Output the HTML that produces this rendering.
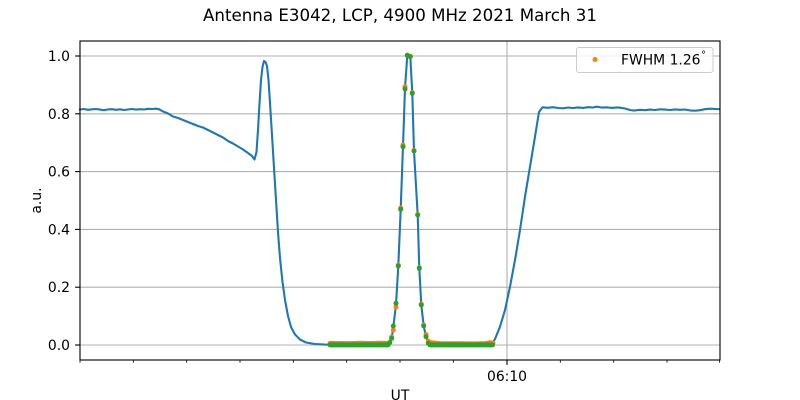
<!DOCTYPE html>
<html>
<head>
<meta charset="utf-8">
<style>
html,body{margin:0;padding:0;background:#fff;}
svg{display:block;}
text{font-family:"DejaVu Sans","Liberation Sans",sans-serif;fill:#000;}
</style>
</head>
<body>
<svg width="800" height="400" viewBox="0 0 800 400" xmlns="http://www.w3.org/2000/svg">
<rect width="800" height="400" fill="#fff"/>
<text x="400" y="21" font-size="16.67" text-anchor="middle">Antenna E3042, LCP, 4900 MHz 2021 March 31</text>

<!-- grid -->
<g stroke="#b0b0b0" stroke-width="1.1" fill="none">
<line x1="80" y1="345" x2="720" y2="345"/>
<line x1="80" y1="287.2" x2="720" y2="287.2"/>
<line x1="80" y1="229.4" x2="720" y2="229.4"/>
<line x1="80" y1="171.6" x2="720" y2="171.6"/>
<line x1="80" y1="113.8" x2="720" y2="113.8"/>
<line x1="80" y1="56" x2="720" y2="56"/>
<line x1="507" y1="41" x2="507" y2="360"/>
</g>

<!-- blue data line -->
<path fill="none" stroke="#1f77b4" stroke-width="2.1" stroke-linejoin="round" stroke-linecap="square" d="M80,109.5 L84,109 L88,109.8 L92,109.3 L96,109 L100,109.6 L104,110.2 L108,109.4 L112,109.2 L116,109.8 L120,109.3 L124,110 L128,109.5 L132,109 L136,109.6 L140,109.2 L144,109.5 L148,108.8 L152,109 L156,108.7 L159,109.2 L163,111.5 L168,113.5 L173,116.5 L178,118 L183,120 L188,122 L193,124 L198,126 L203,127.5 L208,130 L213,132.5 L218,135 L223,137.5 L228,141 L233,143.5 L238,146.5 L243,149.5 L248,153 L252,156 L254.5,159.5 L256.5,152 L258,130 L259.3,106.7 L261,80 L262.5,67 L264,61 L265.5,62 L267,66 L268.5,80 L270,103 L272,135 L274,168 L276,200 L278,232 L280,258 L282.5,282 L285,300 L288,316 L291,327 L295,334.5 L300,339.5 L306,342.5 L315,344 L325,344.6 L340,344.8 L385,344.5 L388,343 L391.7,338.3 L393.3,327 L396,304.5 L398.3,266 L400.7,209 L403,146 L405,88 L407.3,55.5 L410.3,56.5 L412.3,93.3 L414,151 L417.7,215 L419.3,268.3 L421.3,305 L423.7,326 L426,336.5 L428.3,342.5 L432,344.3 L440,344.8 L490,344.6 L492,344 L495,339 L500,326.7 L505,310 L510,286.7 L515,260 L520,230 L525,196.7 L530,166.7 L535,136.7 L539,112 L542.5,107.3 L548,107.8 L553,107.2 L558,108 L563,108.3 L568,107.5 L573,108 L578,107.4 L583,107.9 L588,107.2 L593,107.5 L597,106.7 L602,107.6 L607,107.3 L612,107.9 L617,107.4 L620,107.7 L625,108.5 L630,110 L634,110.6 L640,109.8 L645,110.2 L650,109.6 L655,110 L660,109.3 L665,109.6 L670,110 L675,109.4 L680,109.8 L685,109.5 L690,110.4 L695,110.7 L700,110.2 L705,109.2 L710,108.7 L715,109 L719.5,109.2"/>

<!-- orange scatter -->
<g fill="#ff7f0e" stroke="none">
<path d="M330,343.4 L350,343.6 L360,343.2 L370,343.5 L380,343.2 L389,343.4" stroke="#ff7f0e" stroke-width="5" stroke-linecap="round" fill="none"/>
<path d="M429,342.5 L440,343.6 L460,343.8 L475,343.9 L485,343.6 L490,342.8 L493,343" stroke="#ff7f0e" stroke-width="5" stroke-linecap="round" fill="none"/>
<circle cx="391.7" cy="337" r="2.5"/>
<circle cx="393.3" cy="330" r="2.5"/>
<circle cx="396" cy="307" r="2.5"/>
<circle cx="398.3" cy="265" r="2.5"/>
<circle cx="400.7" cy="208" r="2.5"/>
<circle cx="403" cy="145" r="2.5"/>
<circle cx="405" cy="86.7" r="2.5"/>
<circle cx="407.3" cy="55.3" r="2.5"/>
<circle cx="410.3" cy="56.3" r="2.5"/>
<circle cx="412.3" cy="92.5" r="2.5"/>
<circle cx="414" cy="150.5" r="2.5"/>
<circle cx="417.7" cy="214.5" r="2.5"/>
<circle cx="419.3" cy="267.5" r="2.5"/>
<circle cx="421.3" cy="304" r="2.5"/>
<circle cx="423.7" cy="325" r="2.5"/>
<circle cx="426" cy="334.5" r="2.5"/>
<circle cx="428.3" cy="341" r="2.5"/>
</g>

<!-- green fit scatter -->
<g fill="#2ca02c" stroke="none">
<line x1="330" y1="344.9" x2="388" y2="344.9" stroke="#2ca02c" stroke-width="5" stroke-linecap="round"/>
<line x1="430" y1="344.9" x2="492.5" y2="344.9" stroke="#2ca02c" stroke-width="5" stroke-linecap="round"/>
<circle cx="389.8" cy="342.5" r="2.5"/>
<circle cx="391.7" cy="338.3" r="2.5"/>
<circle cx="393.3" cy="326" r="2.5"/>
<circle cx="396" cy="303.3" r="2.5"/>
<circle cx="398.3" cy="266" r="2.5"/>
<circle cx="400.7" cy="209.3" r="2.5"/>
<circle cx="403" cy="146.7" r="2.5"/>
<circle cx="405" cy="89" r="2.5"/>
<circle cx="407.3" cy="55.3" r="2.5"/>
<circle cx="410.3" cy="56.7" r="2.5"/>
<circle cx="412.3" cy="93.3" r="2.5"/>
<circle cx="414" cy="151" r="2.5"/>
<circle cx="417.7" cy="215" r="2.5"/>
<circle cx="419.3" cy="268.3" r="2.5"/>
<circle cx="421.3" cy="305" r="2.5"/>
<circle cx="423.7" cy="326" r="2.5"/>
<circle cx="426" cy="336.7" r="2.5"/>
<circle cx="428.3" cy="343.3" r="2.5"/>
</g>

<!-- axes frame -->
<rect x="80" y="41" width="640" height="319" fill="none" stroke="#000" stroke-width="1.1"/>

<!-- y ticks -->
<g stroke="#000" stroke-width="1.1">
<line x1="75.1" y1="345" x2="80" y2="345"/>
<line x1="75.1" y1="287.2" x2="80" y2="287.2"/>
<line x1="75.1" y1="229.4" x2="80" y2="229.4"/>
<line x1="75.1" y1="171.6" x2="80" y2="171.6"/>
<line x1="75.1" y1="113.8" x2="80" y2="113.8"/>
<line x1="75.1" y1="56" x2="80" y2="56"/>
</g>
<g font-size="13.9" text-anchor="end">
<text x="70" y="350">0.0</text>
<text x="70" y="292.2">0.2</text>
<text x="70" y="234.4">0.4</text>
<text x="70" y="176.6">0.6</text>
<text x="70" y="118.8">0.8</text>
<text x="70" y="61">1.0</text>
</g>

<!-- x ticks -->
<g stroke="#000" stroke-width="0.8">
<line x1="80" y1="360" x2="80" y2="362.8"/>
<line x1="133.3" y1="360" x2="133.3" y2="362.8"/>
<line x1="186.7" y1="360" x2="186.7" y2="362.8"/>
<line x1="240" y1="360" x2="240" y2="362.8"/>
<line x1="293.3" y1="360" x2="293.3" y2="362.8"/>
<line x1="346.7" y1="360" x2="346.7" y2="362.8"/>
<line x1="400" y1="360" x2="400" y2="362.8"/>
<line x1="453.3" y1="360" x2="453.3" y2="362.8"/>
<line x1="560.3" y1="360" x2="560.3" y2="362.8"/>
<line x1="613.7" y1="360" x2="613.7" y2="362.8"/>
<line x1="667" y1="360" x2="667" y2="362.8"/>
<line x1="719.6" y1="360" x2="719.6" y2="362.8"/>
</g>
<line x1="507" y1="360" x2="507" y2="364.9" stroke="#000" stroke-width="1.1"/>
<text x="507" y="381" font-size="13.9" text-anchor="middle">06:10</text>

<text x="400" y="400" font-size="13.9" text-anchor="middle">UT</text>
<text transform="translate(41,200.5) rotate(-90)" font-size="13.9" text-anchor="middle">a.u.</text>

<!-- legend -->
<rect x="576.5" y="47.5" width="136.5" height="25" rx="2.5" ry="2.5" fill="#fff" fill-opacity="0.8" stroke="#cccccc" stroke-width="1"/>
<circle cx="595" cy="59.5" r="2.5" fill="#ff7f0e"/>
<text x="621" y="64.5" font-size="13.9">FWHM 1.26</text>
<text x="701" y="58" font-size="9.7">°</text>
</svg>
</body>
</html>
